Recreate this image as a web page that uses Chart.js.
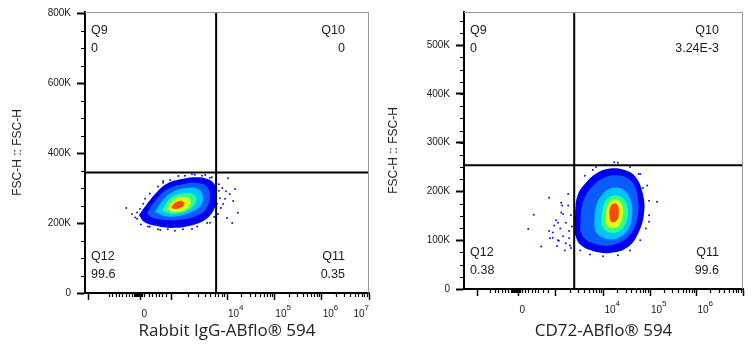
<!DOCTYPE html>
<html>
<head>
<meta charset="utf-8">
<script src="https://cdn.jsdelivr.net/npm/chart.js"></script>
<style>
body { margin: 0; background: #fff; }
#wrap { position: relative; width: 752px; height: 350px; }
canvas { position: absolute; top: 0; }
</style>
</head>
<body>
<div id="wrap">
  <canvas id="chartL" width="376" height="350" style="left:0"></canvas>
  <canvas id="chartR" width="376" height="350" style="left:376px"></canvas>
</div>
<script>
// eixo x biexponencial em unidades de exibicao (10^4 = 4), eixo y em K
const xMin = 1, xMax = 7;
const xTickValsL = [2.17, 4, 5, 6, 7];
const xTickValsR = [2.17, 4, 5, 6];
const xTickBase = ['0', '10', '10', '10', '10'];
const xTickExp = ['', '4', '5', '6', '7'];
const logSteps = [0.301, 0.477, 0.602, 0.699, 0.778, 0.845, 0.903, 0.954];
const quadNames = ['Q9', 'Q10', 'Q11', 'Q12'];
const yTitle = 'FSC-H :: FSC-H';

// painel esquerdo - Rabbit IgG
const titleL = 'Rabbit IgG-ABflo® 594';
const xMajorL = [1.08, 2.17, 2.82, 4, 5, 6, 7];
const xLinL = [1.51, 1.57, 1.66, 1.72, 1.78, 1.87, 1.93, 2.0, 2.03, 2.05, 2.07, 2.09, 2.1, 2.11, 2.12, 2.13, 2.14, 2.15, 2.16, 2.18, 2.19, 2.2, 2.21, 2.25, 2.35, 2.42, 2.5, 2.56, 2.63, 2.71];
const yTicksL = [0, 200, 400, 600, 800];
const yLabelsL = ['0', '200K', '400K', '600K', '800K'];
const gateL = [3.77, 344];
const quadL = ['0', '0', '0.35', '99.6'];
const blueL = [[2.14,223],[2.29,251],[2.48,283],[2.71,311],[3.01,325],[3.35,331],[3.6,325],[3.75,308],[3.79,277],[3.73,240],[3.54,209],[3.22,192],[2.84,186],[2.5,192],[2.25,203],[2.14,223]];
const lblueL = [[2.31,229],[2.5,266],[2.75,297],[3.07,311],[3.39,314],[3.58,303],[3.64,274],[3.56,240],[3.35,220],[3.01,209],[2.65,209],[2.39,217],[2.31,229]];
const cyanL = [[2.48,232],[2.63,263],[2.84,288],[3.13,300],[3.39,297],[3.49,277],[3.45,251],[3.26,232],[2.97,220],[2.67,220],[2.48,232]];
const greenL = [[2.63,234],[2.75,263],[2.94,280],[3.2,286],[3.35,274],[3.3,249],[3.11,232],[2.84,226],[2.63,234]];
const yellowL = [[2.73,240],[2.84,263],[3.01,274],[3.2,271],[3.22,251],[3.05,234],[2.84,232],[2.73,240]];
const redL = [[2.82,245],[2.92,259],[3.05,263],[3.1,253],[3.0,243],[2.88,240],[2.82,245]];
const dotsL = [[1.87,243],[1.99,226],[2.1,212],[3.9,300],[4.02,328],[4.06,283],[4.13,263],[4.17,297],[4.23,229],[4.11,200],[4.0,214],[3.92,254],[3.85,271],[3.96,269],[3.81,226],[3.83,311],[3.87,243],[3.98,291],
  [2.37,189],[2.59,180],[2.9,178],[3.26,183],[3.58,200],[2.65,320],[2.97,334],[3.26,340],[3.54,337],[2.16,240],[2.27,269],[3.68,331],
  [2.54,304],[2.65,315],[2.8,323],[3.11,335],[3.32,338],[3.47,335],[3.64,329],[2.37,284],[2.23,255],[2.1,230],[2.06,216],[2.18,196],[2.33,190],[2.54,182],[2.75,182],[3.07,182],[3.37,190],[3.64,201],[3.73,218],[3.79,255],[3.83,292],[3.77,321]];

// painel direito - CD72
const titleR = 'CD72-ABflo® 594';
const xMajorR = [1.3, 2.17, 2.96, 4, 5, 6, 7];
const xLinR = [1.56, 1.67, 1.73, 1.82, 1.88, 1.95, 2.0, 2.03, 2.05, 2.07, 2.09, 2.1, 2.11, 2.12, 2.13, 2.14, 2.15, 2.16, 2.18, 2.19, 2.2, 2.21, 2.25, 2.31, 2.38, 2.46, 2.53, 2.59, 2.7, 2.81];
const yTicksR = [0, 100, 200, 300, 400, 500];
const yLabelsR = ['0', '100K', '200K', '300K', '400K', '500K'];
const gateR = [3.37, 254];
const quadR = ['0', '3.24E-3', '99.6', '0.38'];
const blueR = [[3.37,115],[3.39,160],[3.45,194],[3.65,221],[3.88,239],[4.14,247],[4.42,245],[4.68,231],[4.85,194],[4.87,154],[4.74,113],[4.51,85],[4.14,74],[3.77,78],[3.5,91],[3.37,115]];
const lblueR = [[3.5,119],[3.52,160],[3.6,188],[3.77,211],[3.99,227],[4.23,233],[4.48,229],[4.66,213],[4.74,184],[4.74,150],[4.63,119],[4.42,99],[4.12,89],[3.8,93],[3.6,103],[3.5,119]];
const cyanR = [[3.8,135],[3.84,170],[3.97,194],[4.18,207],[4.44,203],[4.59,180],[4.61,147],[4.51,119],[4.27,103],[3.99,105],[3.84,117],[3.8,135]];
const greenR = [[3.95,143],[4.01,174],[4.16,190],[4.36,190],[4.51,172],[4.51,143],[4.38,121],[4.16,115],[3.99,125],[3.95,143]];
const yellowR = [[4.05,152],[4.1,174],[4.23,184],[4.38,176],[4.42,152],[4.33,129],[4.16,125],[4.05,135],[4.05,152]];
const redR = [[4.12,156],[4.17,172],[4.28,175],[4.33,158],[4.28,140],[4.16,138],[4.12,156]];
const dotsR = [[3.24,195],[2.83,187],[2.5,152],[2.38,123],[2.66,87],[2.83,119],[3.02,136],[3.09,177],[3.13,154],[3.26,119],[3.28,89],[3.04,99],[2.91,105],[5.15,179],[4.98,138],[4.85,207],[4.23,260],[3.84,250],[4.76,236],
  [2.98,141],[3.07,124],[3.13,108],[3.19,94],[3.02,100],[2.91,116],[3.09,157],[3.19,136],[3.26,104],[3.3,84],[3.17,79],[3.0,88],[2.85,104],[2.94,130],[3.24,171],[3.3,151],[3.32,128],[3.11,171],
  [3.6,232],[3.77,244],[4.03,255],[4.31,259],[4.57,250],[4.79,236],[4.94,212],[4.98,181],[4.98,151],[4.91,124],[4.79,100],[4.57,79],[4.31,69],[3.99,67],[3.71,71],[3.5,79]];

const layerColors = ['#0000f0', '#0b5cff', '#00c3ff', '#2bff8a', '#dcff18', '#ff4a0a'];

Chart.defaults.font.family = '"Liberation Sans", Arial, sans-serif';

function flowChart(id, p) {
  const pts = arr => arr.map(d => ({x: d[0], y: d[1]}));
  const xMinor = p.xLin
    .concat(logSteps.map(f => p.xMajor[2] + (4 - p.xMajor[2]) * f))
    .concat([4, 5, 6].flatMap(d => logSteps.map(f => d + f)));
  const yMinor = [];
  for (let v = p.yStep; v < p.yMax; v += p.yStep) yMinor.push(v);

  const datasets = [
    {data: pts([[p.gate[0], 0], [p.gate[0], p.yMax]]), borderColor: '#000', borderWidth: 2, pointRadius: 0, order: 0},
    {data: pts([[xMin, p.gate[1]], [xMax, p.gate[1]]]), borderColor: '#000', borderWidth: 2, pointRadius: 0, order: 0}
  ];
  p.layers.forEach((l, i) => {
    datasets.push({
      data: pts(l),
      fill: 'shape',
      backgroundColor: layerColors[i],
      borderColor: layerColors[i],
      borderWidth: 0,
      tension: 0.4,
      pointRadius: 0,
      order: 10 - i
    });
  });
  datasets.push({data: pts(p.dots), showLine: false, pointRadius: 1, pointBorderWidth: 0, pointBackgroundColor: '#1414e6', order: 20});

  const deco = {
    id: 'deco',
    beforeDraw(c) {
      c.ctx.save();
      c.ctx.fillStyle = '#fff';
      c.ctx.fillRect(0, 0, c.width, c.height);
      c.ctx.restore();
    },
    afterDraw(c) {
      const {ctx, chartArea: a} = c;
      const x = c.scales.x, y = c.scales.y;
      ctx.save();
      // moldura superior/direita
      ctx.strokeStyle = '#9a9a9a';
      ctx.lineWidth = 1;
      ctx.beginPath();
      ctx.moveTo(a.left, a.top + 0.5);
      ctx.lineTo(a.right - 0.5, a.top + 0.5);
      ctx.lineTo(a.right - 0.5, a.bottom);
      ctx.stroke();
      // ticks menores
      ctx.strokeStyle = '#000';
      ctx.lineWidth = 1.2;
      ctx.beginPath();
      xMinor.forEach(v => {
        const px = Math.round(x.getPixelForValue(v)) + 0.5;
        ctx.moveTo(px, a.bottom);
        ctx.lineTo(px, a.bottom + 4);
      });
      yMinor.forEach(v => {
        const py = Math.round(y.getPixelForValue(v)) + 0.5;
        ctx.moveTo(a.left - 4, py);
        ctx.lineTo(a.left, py);
      });
      ctx.stroke();
      // rotulos do eixo x com expoente
      ctx.fillStyle = '#1a1a1a';
      ctx.textBaseline = 'middle';
      ctx.textAlign = 'left';
      p.xTicks.forEach((v, i) => {
        ctx.font = '10px "Liberation Sans"';
        const wb = ctx.measureText(xTickBase[i]).width;
        ctx.font = '8px "Liberation Sans"';
        const we = ctx.measureText(xTickExp[i]).width;
        let px = x.getPixelForValue(v) + 1;
        if (px + wb + we > a.right) px = a.right - wb - we;
        ctx.font = '10px "Liberation Sans"';
        ctx.fillText(xTickBase[i], px, a.bottom + 21);
        ctx.font = '8px "Liberation Sans"';
        ctx.fillText(xTickExp[i], px + wb, a.bottom + 15);
      });
      // quadrantes
      ctx.font = '12.5px "Liberation Sans"';
      ctx.fillStyle = '#1a1a1a';
      const spots = [
        ['left', a.left + 6, a.top + 19],
        ['right', a.right - 24, a.top + 19],
        ['right', a.right - 24, a.bottom - 36],
        ['left', a.left + 6, a.bottom - 36]
      ];
      spots.forEach((s, i) => {
        ctx.textAlign = s[0];
        ctx.fillText(quadNames[i], s[1], s[2]);
        ctx.fillText(p.quad[i], s[1], s[2] + 18);
      });
      ctx.restore();
    }
  };

  return new Chart(document.getElementById(id), {
    type: 'line',
    data: {datasets: datasets},
    options: {
      responsive: false,
      animation: false,
      layout: {padding: {left: 0, right: p.padR, top: 10, bottom: 0}},
      plugins: {legend: {display: false}, tooltip: {enabled: false}},
      scales: {
        x: {
          type: 'linear',
          min: xMin,
          max: xMax,
          afterBuildTicks: s => { s.ticks = p.xMajor.map(v => ({value: v})); },
          afterFit: s => { s.height = p.xAxisH; },
          ticks: {display: false},
          grid: {drawOnChartArea: false, tickLength: 7, tickWidth: 1.5, tickColor: '#000'},
          border: {color: '#000', width: 2},
          title: {display: true, text: p.title, color: '#222', font: {family: '"Open Sans", sans-serif', size: 17}, padding: {bottom: 9}}
        },
        y: {
          type: 'linear',
          min: 0,
          max: p.yMax,
          afterBuildTicks: s => { s.ticks = p.yTicks.map(v => ({value: v})); },
          afterFit: s => { s.width = p.yAxisW; },
          ticks: {autoSkip: false, padding: 6, color: '#1a1a1a', font: {size: 10}, callback: (v, i) => p.yLabels[i]},
          grid: {drawOnChartArea: false, tickLength: 8, tickWidth: 2, tickColor: '#000'},
          border: {color: '#000', width: 2},
          title: {display: true, text: yTitle, color: '#222', font: {size: 12}, padding: {top: 10}}
        }
      }
    },
    plugins: [deco]
  });
}

flowChart('chartL', {
  title: titleL, xMajor: xMajorL, xLin: xLinL, xTicks: xTickValsL,
  yMax: 803, yStep: 50, yTicks: yTicksL, yLabels: yLabelsL,
  gate: gateL, quad: quadL,
  layers: [blueL, lblueL, cyanL, greenL, yellowL, redL], dots: dotsL,
  padR: 7, xAxisH: 57, yAxisW: 85
});

flowChart('chartR', {
  title: titleR, xMajor: xMajorR, xLin: xLinR, xTicks: xTickValsR,
  yMax: 568, yStep: 25, yTicks: yTicksR, yLabels: yLabelsR,
  gate: gateR, quad: quadR,
  layers: [blueR, lblueR, cyanR, greenR, yellowR, redR], dots: dotsR,
  padR: 9, xAxisH: 61, yAxisW: 88
});
</script>
</body>
</html>
